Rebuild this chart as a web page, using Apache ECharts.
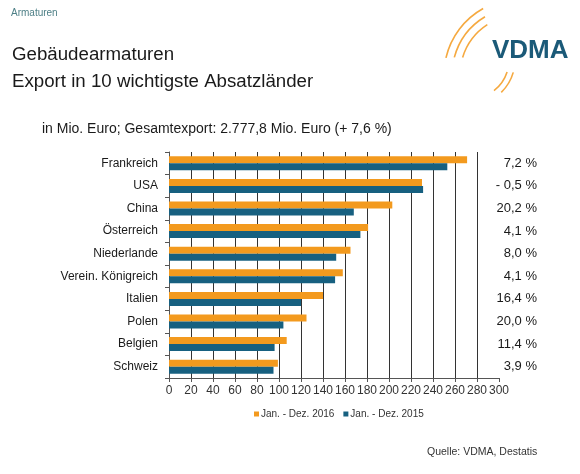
<!DOCTYPE html>
<html>
<head>
<meta charset="utf-8">
<script src="https://cdn.jsdelivr.net/npm/echarts@6/dist/echarts.min.js"></script>
<style>
  html, body { margin: 0; padding: 0; background: #fff; }
  #chart { width: 580px; height: 474px; }
</style>
</head>
<body>
<div id="chart"></div>
<script>
// Daten
var laender = ['Frankreich', 'USA', 'China', 'Österreich', 'Niederlande',
    'Verein. Königreich', 'Italien', 'Polen', 'Belgien', 'Schweiz'];
var werte2016 = [271, 230, 203, 181, 165, 158, 140, 125, 107, 99];
var werte2015 = [253, 231, 168, 174, 152, 151, 120, 104, 96, 95];
var veraenderung = ['7,2 %', '- 0,5 %', '20,2 %', '4,1 %', '8,0 %',
    '4,1 %', '16,4 %', '20,0 %', '11,4 %', '3,9 %'];
var serienNamen = ['Jan. - Dez. 2016', 'Jan. - Dez. 2015'];

var orange = '#F39A1E';
var blau = '#176080';
var font = 'Arial, "Liberation Sans", sans-serif';

// VDMA Logo-Boegen
function bogen(cx, cy, r, a0, a1, w) {
    return {
        type: 'arc',
        shape: { cx: cx, cy: cy, r: r, startAngle: a0 * Math.PI / 180, endAngle: a1 * Math.PI / 180 },
        style: { stroke: orange, lineWidth: w, fill: null, opacity: 0.85 },
        silent: true
    };
}

var option = {
    backgroundColor: '#fff',
    textStyle: { fontFamily: font },
    title: [
        { text: 'Armaturen', left: 6, top: 3,
          textStyle: { fontSize: 10, fontWeight: 'normal', color: '#4d7f86' } },
        { text: 'Gebäudearmaturen\nExport in 10 wichtigste Absatzländer', left: 7, top: 36,
          textStyle: { fontSize: 18.7, fontWeight: 'normal', color: '#1a1a1a', lineHeight: 27 } },
        { text: 'in Mio. Euro; Gesamtexport: 2.777,8 Mio. Euro (+ 7,6 %)', left: 37, top: 117,
          textStyle: { fontSize: 14, fontWeight: 'normal', color: '#1a1a1a' } },
        { text: 'Quelle: VDMA, Destatis', left: 422, top: 442,
          textStyle: { fontSize: 10.5, fontWeight: 'normal', color: '#333' } }
    ],
    legend: {
        data: serienNamen,
        left: 249, top: 404,
        itemWidth: 5, itemHeight: 5, itemGap: 9,
        icon: 'rect',
        textStyle: { fontSize: 10, color: '#333', padding: [0, 0, 0, -3] }
    },
    grid: { left: 169, right: 81, top: 152, bottom: 96 },
    xAxis: {
        type: 'value',
        min: 0, max: 300, interval: 20,
        axisLine: { show: true, lineStyle: { color: '#555' } },
        axisTick: { show: true, length: 4, lineStyle: { color: '#555' } },
        axisLabel: { fontSize: 12, color: '#333', margin: 7 },
        splitLine: { show: true, showMaxLine: false, lineStyle: { color: '#333', width: 1 } }
    },
    yAxis: [{
        type: 'category',
        data: laender,
        inverse: true,
        axisLine: { show: true, lineStyle: { color: '#555' } },
        axisTick: { show: true, length: 4, lineStyle: { color: '#555' } },
        axisLabel: { fontSize: 12, color: '#1a1a1a', margin: 11 }
    }, {
        type: 'category',
        data: veraenderung,
        inverse: true,
        position: 'right',
        axisLine: { show: false },
        axisTick: { show: false },
        axisLabel: { fontSize: 13, color: '#1a1a1a', align: 'right', margin: 38 }
    }],
    series: [{
        name: serienNamen[0],
        type: 'bar',
        data: werte2016,
        barWidth: 7,
        barGap: '0%',
        itemStyle: { color: orange },
        silent: true
    }, {
        name: serienNamen[1],
        type: 'bar',
        data: werte2015,
        barWidth: 7,
        barGap: '0%',
        itemStyle: { color: blau },
        silent: true
    }],
    graphic: [
        bogen(520, 75, 76, 193, 241, 1.6),
        bogen(520, 75, 68, 195, 239, 1.6),
        bogen(520, 75, 60, 197, 237, 1.6),
        bogen(470, 60, 39, 18, 52, 1.6),
        bogen(470, 60, 45, 16, 46, 1.6),
        {
            type: 'text',
            left: 492, top: 38,
            style: { text: 'VDMA', fill: '#1b5a78', font: 'bold 26px Arial, "Liberation Sans", sans-serif' },
            silent: true
        }
    ]
};

var chart = echarts.init(document.getElementById('chart'));
chart.setOption(option);
</script>
</body>
</html>
